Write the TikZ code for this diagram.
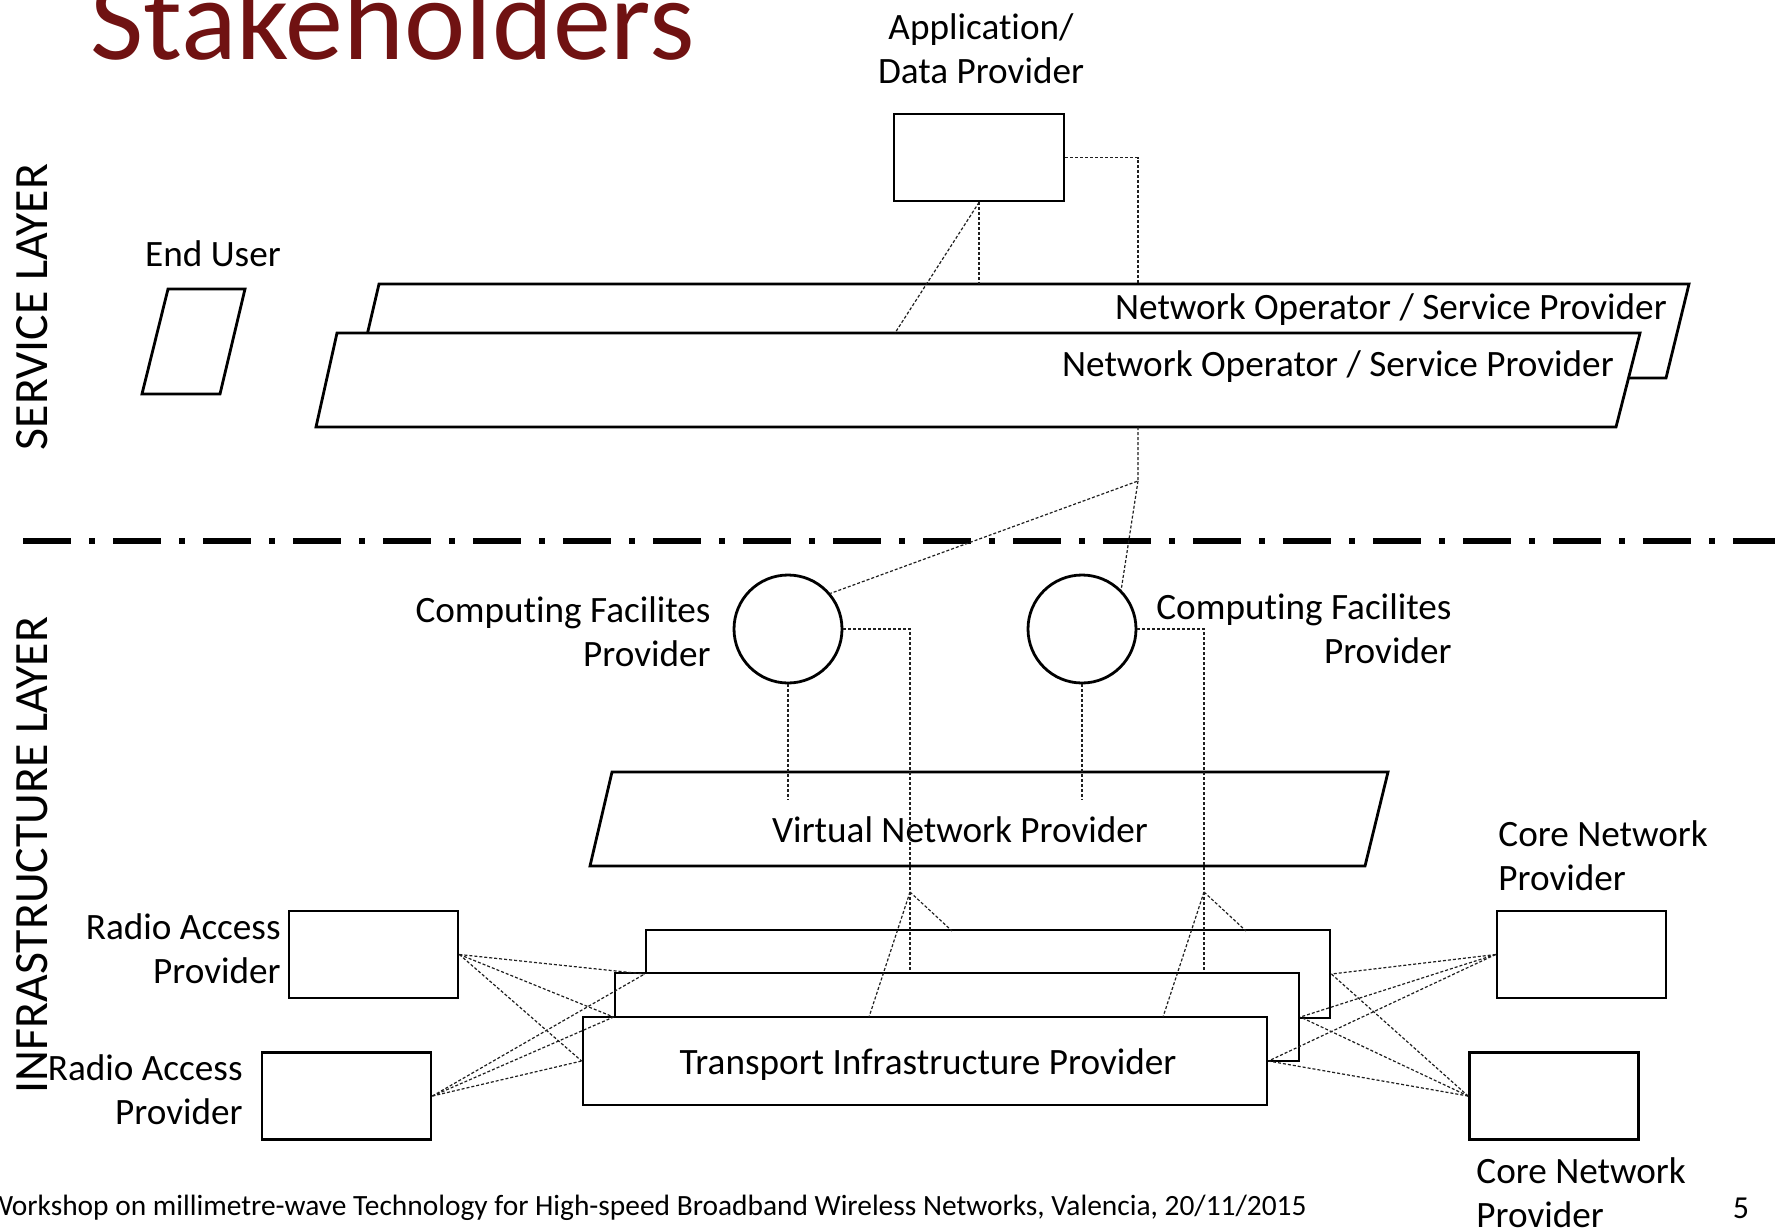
\documentclass[tikz,border=0pt]{standalone}
\usepackage{fontspec}
\setmainfont{Carlito}[Ligatures=NoCommon]
\usetikzlibrary{calc}
\definecolor{TitleClr}{rgb}{0.44,0.07,0.07}
\definecolor{LinkClr}{rgb}{0.12,0.12,0.12}

\begin{document}
\begin{tikzpicture}[x=0.5pt,y=-0.5pt,
  box/.style={draw,line width=1.4pt,fill=white,inner sep=0pt,minimum width=84.5pt,minimum height=43.5pt},
  layer/.style={draw,line width=1.4pt,fill=white,inner sep=0pt,minimum width=342pt,minimum height=44pt},
  fac/.style={draw,line width=1.4pt,circle,inner sep=0pt,minimum size=54pt},
  plate/.style={draw,line width=1.4pt,fill=white},
  txt/.style={inner sep=0pt,font=\fontsize{18.6}{22}\selectfont},
  link/.style={draw=LinkClr,line width=0.6pt,dash pattern=on 1.5pt off 1pt}]
\useasboundingbox (0,0) rectangle (1775,1231);
\clip (0,0) rectangle (1775,1231);

\node[anchor=base west,inner sep=0pt,text=TitleClr,font=\fontsize{58}{60}\selectfont] (title) at (90,59) {Stakeholders};
\node[rotate=90,inner sep=0pt,font=\fontsize{23.9}{24}\selectfont] (svc) at (32,307) {SERVICE LAYER};
\node[rotate=90,inner sep=0pt,font=\fontsize{23.9}{24}\selectfont] (infra) at (32,855) {INFRASTRUCTURE LAYER};

\draw[line width=2.8pt,dash pattern=on 24pt off 9pt on 3pt off 9pt] (23,541) -- (1775,541);

\node[box,minimum width=85pt] (app) at (979,157.5) {};
\node[txt,align=center] (appT) at (981,49) {Application/\\Data Provider};

\draw[plate] (168,289) -- (245,289) -- (220,394) -- (142,394) -- cycle;
\node[txt] (euT) at (213,254) {End User};

\draw[plate] (379,284) -- (1689,284) -- (1666,378) -- (357,378) -- cycle;
\node[txt,anchor=east] (nobT) at (1667,310) {Network Operator / Service Provider};
\draw[plate] (337,333) -- (1640,333) -- (1616,427) -- (316,427) -- cycle;
\node[txt,anchor=east] (nofT) at (1614,367) {Network Operator / Service Provider};

\coordinate (nobA) at (979,284);
\coordinate (nobB) at (1138,284);
\coordinate (nofA) at (895,333);
\coordinate (nofB) at (1138,427);
\coordinate (cfJ) at (1138,481);

\node[fac] (cf1) at (788,629) {};
\node[fac] (cf2) at (1082,629) {};
\node[txt,anchor=east,align=right] (cf1T) at (711,632) {Computing Facilites\\Provider};
\node[txt,anchor=west,align=right] (cf2T) at (1156,629) {Computing Facilites\\Provider};

\draw[plate] (612,772) -- (1388,772) -- (1365,866) -- (590,866) -- cycle;
\node[txt] (vnT) at (960,830) {Virtual Network Provider};
\coordinate (vnA) at (788,800);
\coordinate (vnB) at (1082,800);

\node[layer] (tpB) at (988,974) {};
\node[layer] (tpM) at (957,1017) {};
\node[layer] (tpF) at (925,1061) {};
\node[txt] (tpT) at (928,1065) {Transport Infrastructure Provider};
\coordinate (tJ1) at (910,892);
\coordinate (tJ2) at (1204,892);

\node[box] (ra1) at (373.5,954.5) {};
\node[box] (ra2) at (346.5,1096) {};
\node[box] (cn1) at (1581.5,954.5) {};
\node[box] (cn2) at (1554,1096) {};
\node[txt,anchor=east,align=right] (ra1T) at (281,949) {Radio Access\\Provider};
\node[txt,anchor=east,align=right] (ra2T) at (243,1090) {Radio Access\\Provider};
\node[txt,anchor=west,align=left] (cn1T) at (1498,856) {Core Network\\Provider};
\node[txt,anchor=west,align=left] (cn2T) at (1476,1193) {Core Network\\Provider};

\draw[link] (app.east) -| (nobB);
\draw[link] (app.south) -- (nobA);
\draw[link] (app.south) -- (nofA);
\draw[link] (nofB) -- (cfJ) -- (cf1.40);
\draw[link] (cfJ) -- (cf2.45);
\draw[link] (cf1.south) -- (vnA);
\draw[link] (cf2.south) -- (vnB);
\draw[link] (cf1.east) -| (tJ1);
\draw[link] (cf2.east) -| (tJ2);
\foreach \j in {tJ1,tJ2}{
  \draw[link] (\j) -- (\j |- tpM.north);
  \draw[link] (\j) -- ($(\j)+(42,39)$);
  \draw[link] (\j) -- ($(\j)+(-41,125)$);
}
\foreach \r in {ra1,ra2}
  \foreach \t in {tpB,tpM,tpF}
    \draw[link] (\r.east) -- (\t.west);
\foreach \c in {cn1,cn2}
  \foreach \t in {tpB,tpM,tpF}
    \draw[link] (\c.west) -- (\t.east);

\node[anchor=east,inner sep=0pt,font=\fontsize{14.7}{16}\selectfont] (foot) at (1307,1208) {Workshop on millimetre-wave Technology for High-speed Broadband Wireless Networks, Valencia, 20/11/2015};
\node[inner sep=0pt,font=\fontsize{16}{18}\selectfont] (page) at (1741,1208) {5};
\end{tikzpicture}
\end{document}
